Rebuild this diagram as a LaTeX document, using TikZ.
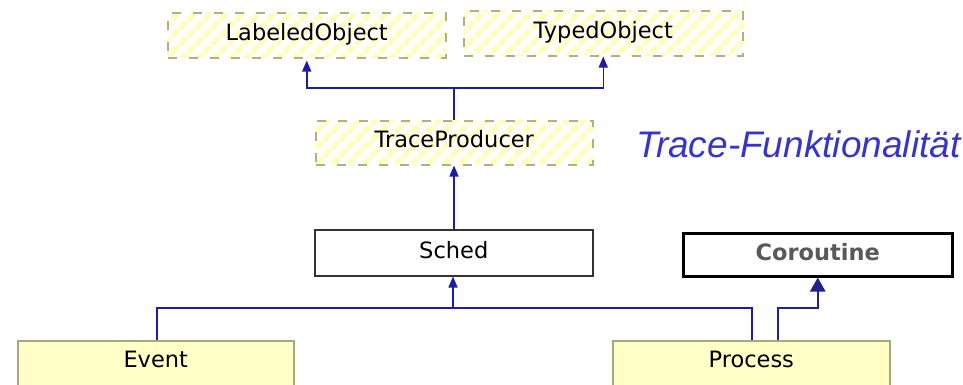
\documentclass[tikz,border=0pt]{standalone}
\usepackage{fontspec}
\setmainfont{DejaVu Sans}
\newfontfamily\arialfont{Liberation Sans}
\usetikzlibrary{arrows.meta,patterns.meta}
\definecolor{stripe}{HTML}{FFFFBC}
\definecolor{dashc}{HTML}{B0B084}
\definecolor{boxfill}{HTML}{FFFFC6}
\definecolor{boxedge}{HTML}{A8A880}
\definecolor{navy}{HTML}{1C1CA8}
\definecolor{navyd}{HTML}{22228E}
\definecolor{tracec}{HTML}{3535CC}
\definecolor{corotext}{HTML}{595959}
\begin{document}
\begin{tikzpicture}[x=1pt,y=-1pt,
  basebox/.style={inner sep=0pt, text height=28pt, text depth=17pt, anchor=north west,
    font=\fontsize{22.5}{27}\selectfont},
  iface/.style={basebox, draw=dashc, line width=1.5pt, dash pattern=on 9pt off 12pt,
    pattern={Lines[angle=45,distance=11.3pt,line width=5.5pt]}, pattern color=stripe},
  plainbox/.style={basebox, draw=black!80, line width=1.5pt, fill=white},
  yellowbox/.style={basebox, draw=boxedge, line width=1.5pt, fill=boxfill},
  conn/.style={draw=navy, line width=1.5pt},
  smallarrow/.style={conn, -{Triangle[length=11pt,width=9pt]}},
  bigconn/.style={draw=navyd, line width=2.5pt},
  bigarrow/.style={bigconn, -{Triangle[length=14pt,width=15pt]}}
]
\useasboundingbox (0,0) rectangle (963,384);
\clip (0,0) rectangle (963,384);
\fill[white] (0,0) rectangle (963,384);

\node[iface, minimum width=278pt] (LO) at (165,10) {LabeledObject};
\node[iface, minimum width=279pt] (TO) at (463,10) {TypedObject};
\node[iface, minimum width=277pt, text height=27pt] (TP) at (315,120) {TraceProducer};
\node[plainbox, minimum width=278pt, text height=29pt] (SC) at (314,229) {Sched};
\node[basebox, draw=black, line width=2.5pt, fill=white, minimum width=269pt,
      text height=27pt, text depth=16pt, text=corotext, font=\fontsize{22.5}{27}\selectfont\bfseries]
      (CO) at (682,232) {Coroutine};
\node[yellowbox, minimum width=276pt, text height=27pt, text depth=20pt] (EV) at (17,340) {Event};
\node[yellowbox, minimum width=277pt, text height=27pt, text depth=20pt] (PR) at (612,340) {Process};

\node[anchor=base west, inner sep=0pt, text=tracec,
      font=\arialfont\itshape\fontsize{37}{40}\selectfont] (TF) at (636,157) {Trace-Funktionalität};

% TraceProducer -> LabeledObject / TypedObject
\coordinate (j1) at (454,88);
\draw[conn] (TP.north -| j1) -- (j1);
\draw[smallarrow] (j1) -| (LO.south);
\draw[smallarrow] (j1) -| (TO.south);
% Sched -> TraceProducer
\draw[smallarrow] (SC.north -| j1) -- (TP.south -| j1);
% Event, Process -> Sched
\coordinate (j2) at (453,308);
\coordinate (ev) at (157,340);
\coordinate (pr) at (752,340);
\draw[conn] (ev) |- (j2);
\draw[conn] (pr) |- (j2);
\draw[smallarrow] (j2) -- (SC.south -| j2);
% Process -> Coroutine
\coordinate (pc) at (778,340);
\coordinate (pcb) at (778,308);
\draw[bigarrow] (pc) -- (pcb) -| (CO.south);
\end{tikzpicture}
\end{document}
